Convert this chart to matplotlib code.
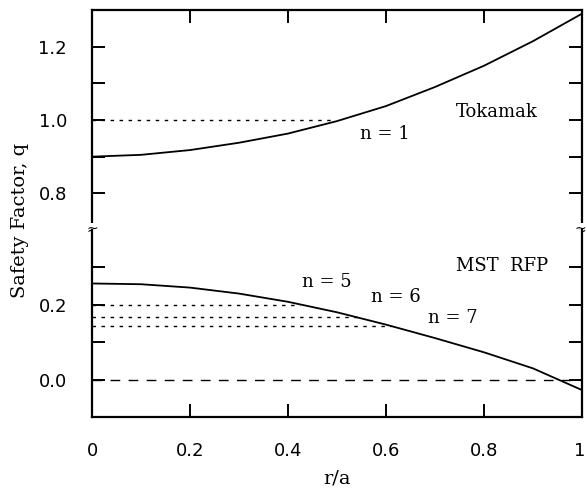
import matplotlib
matplotlib.use("Agg")
import matplotlib.pyplot as plt
from matplotlib.transforms import ScaledTranslation

# ---- data ----
r_vals = [0.0, 0.1, 0.2, 0.3, 0.4, 0.5, 0.6, 0.7, 0.8, 0.9, 1.0]
q_tokamak = [0.900, 0.905, 0.918, 0.938, 0.963, 0.997, 1.038, 1.090, 1.148, 1.215, 1.290]
q_rfp = [0.257, 0.255, 0.246, 0.230, 0.208, 0.180, 0.147, 0.111, 0.073, 0.030, -0.028]

tok_res_q = 1.0
tok_res_r = 0.49
rfp_res_q = [1 / 5, 1 / 6, 1 / 7]
rfp_res_r = [0.424, 0.546, 0.61]
rfp_res_labels = ["n = 5", "n = 6", "n = 7"]

x_ticks = [0, 0.2, 0.4, 0.6, 0.8, 1.0]
x_ticklabels = ["0", "0.2", "0.4", "0.6", "0.8", "1"]
top_major = [0.8, 1.0, 1.2]
top_minor = [0.9, 1.1]
bot_major = [0.0, 0.2]
bot_minor = [0.1, 0.3]

W, H = 587, 490
fig = plt.figure(figsize=(W / 100, H / 100), dpi=100)

left = 92 / W
right = 582 / W
y_top = 1 - 10 / H
y_break = 1 - 230 / H
y_bot = 1 - 417 / H

ax_t = fig.add_axes([left, y_break, right - left, y_top - y_break])
ax_b = fig.add_axes([left, y_bot, right - left, y_break - y_bot], sharex=ax_t)

serif = ["DejaVu Serif"]
sans = ["DejaVu Sans"]
lw_sp = 1.6

for ax in (ax_t, ax_b):
    for s in ax.spines.values():
        s.set_linewidth(lw_sp)
    ax.set_xlim(0, 1)
    ax.tick_params(axis="both", which="both", direction="in", length=9.5,
                   width=1.4, left=True, right=True, labelsize=13, pad=18)

ax_t.spines["bottom"].set_visible(False)
ax_b.spines["top"].set_visible(False)

ax_t.set_ylim(0.7, 1.3)
ax_b.set_ylim(-0.1, 0.4)

ax_t.set_yticks(top_major)
ax_t.set_yticklabels([f"{v:.1f}" for v in top_major])
ax_t.set_yticks(top_minor, minor=True)
ax_b.set_yticks(bot_major)
ax_b.set_yticklabels([f"{v:.1f}" for v in bot_major])
ax_b.set_yticks(bot_minor, minor=True)

ax_t.set_xticks(x_ticks)
ax_t.tick_params(axis="x", top=True, bottom=False, labelbottom=False, labeltop=False)
ax_b.tick_params(axis="x", top=False, bottom=True, labelbottom=True)
ax_b.set_xticklabels(x_ticklabels)

for lab in ax_b.get_xticklabels() + ax_b.get_yticklabels() + ax_t.get_yticklabels():
    lab.set_family(sans)
last = ax_b.get_xticklabels()[-1]
last.set_transform(last.get_transform() + ScaledTranslation(-2 / 72, 0, fig.dpi_scale_trans))

# curves
ax_t.plot(r_vals, q_tokamak, color="black", lw=1.3, clip_on=False)
ax_b.plot(r_vals, q_rfp, color="black", lw=1.3)

# resonant surfaces
ax_t.plot([0, tok_res_r], [tok_res_q, tok_res_q], color="black", lw=1.0,
          linestyle=(0, (2.5, 4)))
for q, r in zip(rfp_res_q, rfp_res_r):
    ax_b.plot([0, r], [q, q], color="black", lw=1.0, linestyle=(0, (2.5, 4)))
ax_b.axhline(0.0, color="black", lw=1.0, linestyle=(0, (7, 6)))

# annotations
ax_t.text(0.743, 1.022, "Tokamak", family=serif, fontsize=13, ha="left", va="center")
ax_t.text(0.546, 0.962, "n = 1", family=serif, fontsize=13, ha="left", va="center")
ax_b.text(0.743, 0.303, "MST  RFP", family=serif, fontsize=13, ha="left", va="center")
lab_pos = [(0.428, 0.262), (0.570, 0.220), (0.685, 0.165)]
for (x, y), t in zip(lab_pos, rfp_res_labels):
    ax_b.text(x, y, t, family=serif, fontsize=13, ha="left", va="center")

# axis break marks
for xa, ha in ((0, "center"), (1, "center")):
    t = ax_t.text(xa, 0.0, "\u2248", transform=ax_t.transAxes, ha=ha, va="center",
                  fontsize=10, family=sans,
                  bbox=dict(facecolor="white", edgecolor="none", pad=0.3), zorder=10,
                  clip_on=False)
    if xa == 1:
        t.set_transform(ax_t.transAxes + ScaledTranslation(-1.5 / 72, 0, fig.dpi_scale_trans))

# labels
fig.text(20 / W, 1 - 220 / H, "Safety Factor, q", rotation=90, ha="center",
         va="center", family=serif, fontsize=14)
fig.text((92 + 582) / 2 / W, 1 - 478 / H, "r/a", ha="center", va="center",
         family=serif, fontsize=14)

fig.savefig("out.png", dpi=100)
